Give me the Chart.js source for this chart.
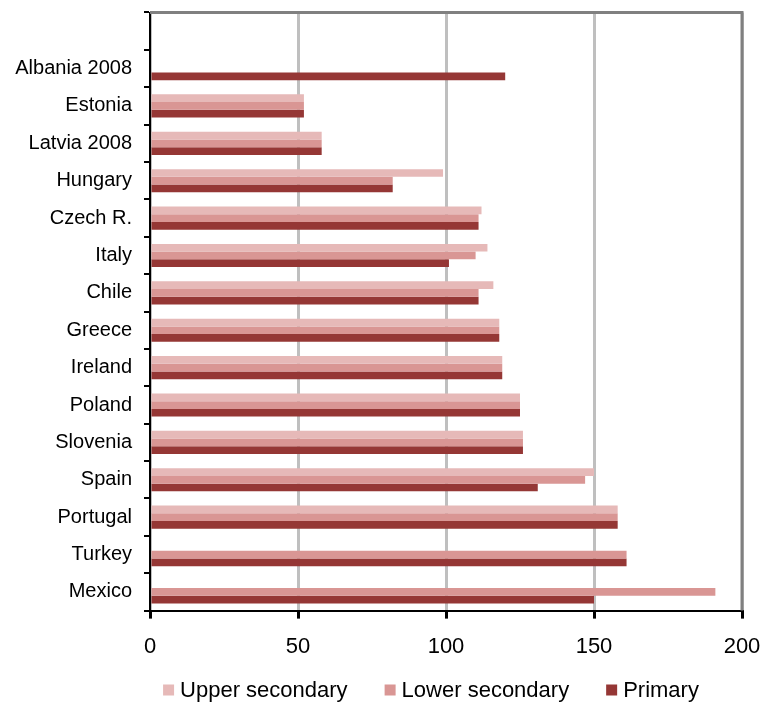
<!DOCTYPE html>
<html>
<head>
   <meta charset="utf-8">
   <script src="https://cdn.jsdelivr.net/npm/chart.js@4.4.0/dist/chart.umd.min.js"></script>
   <title>Education chart</title>
   <style>
      body { margin: 0; background: #fff; }
      #wrap { width: 764px; height: 702px; }
   </style>
</head>
<body>
<div id="wrap"><canvas id="bar-chart"></canvas></div>
<script>
   // first label left blank on purpose (empty slot above Albania)
   const categories = ["", "Albania 2008", "Estonia", "Latvia 2008", "Hungary", "Czech R.", "Italy", "Chile",
      "Greece", "Ireland", "Poland", "Slovenia", "Spain", "Portugal", "Turkey", "Mexico"];
   const upperSecondary = [null, null, 52, 58, 99, 112, 114, 116, 118, 119, 125, 126, 150, 158, null, null];
   const lowerSecondary = [null, null, 52, 58, 82, 111, 110, 111, 118, 119, 125, 126, 147, 158, 161, 191];
   const primary = [null, 120, 52, 58, 82, 111, 101, 111, 118, 119, 125, 126, 131, 158, 161, 150];
   const xTicks = [0, 50, 100, 150, 200];

   const FONT = "'Liberation Sans', Arial, sans-serif";

   // grey frame on top and right like the original
   const frame = {
      id: 'frame',
      afterDraw(chart) {
         const a = chart.chartArea, c = chart.ctx;
         c.save();
         c.strokeStyle = '#808080';
         c.lineWidth = 3;
         c.beginPath();
         c.moveTo(a.left, a.top);
         c.lineTo(a.right, a.top);
         c.lineTo(a.right, a.bottom);
         c.stroke();
         c.restore();
      }
   };

   // legend drawn by hand so the spacing can be like Excel's
   const bottomLegend = {
      id: 'bottomLegend',
      afterDraw(chart) {
         const c = chart.ctx;
         const sets = chart.data.datasets;
         const box = 11, gap = 6, between = 37;
         c.save();
         c.font = '22px ' + FONT;
         c.textBaseline = 'middle';
         let total = 0;
         sets.forEach((d, i) => {
            total += box + gap + c.measureText(d.label).width + (i < sets.length - 1 ? between : 0);
         });
         let x = 431 - total / 2;
         const y = 690;
         sets.forEach((d) => {
            c.fillStyle = d.backgroundColor;
            c.fillRect(x, y - box / 2, box, box);
            x += box + gap;
            c.fillStyle = '#000';
            c.fillText(d.label, x, y + 1);
            x += c.measureText(d.label).width + between;
         });
         c.restore();
      }
   };

   new Chart(document.getElementById("bar-chart"), {
      type: 'bar',
      data: {
         labels: categories,
         datasets: [
            { label: "Upper secondary", backgroundColor: "#E6B9B8", data: upperSecondary },
            { label: "Lower secondary", backgroundColor: "#D99694", data: lowerSecondary },
            { label: "Primary", backgroundColor: "#953735", data: primary }
         ]
      },
      options: {
         indexAxis: 'y',
         responsive: true,
         maintainAspectRatio: false,
         animation: false,
         categoryPercentage: 0.62,
         barPercentage: 1.0,
         layout: { padding: { top: 12, right: 22, left: 8, bottom: 27 } },
         plugins: {
            legend: { display: false },
            tooltip: { enabled: false }
         },
         scales: {
            x: {
               min: 0, max: 200,
               afterBuildTicks: (s) => { s.ticks = xTicks.map(v => ({ value: v })); },
               grid: { color: '#BFBFBF', lineWidth: 3, tickColor: '#000', tickLength: 8 },
               border: { color: '#000', width: 2 },
               // small padding + tall line keeps the label low without shrinking the plot
               ticks: { color: '#000', padding: 3, font: { family: FONT, size: 22, lineHeight: 2.29 } }
            },
            y: {
               afterFit: (s) => { s.width = 142; },
               grid: { offset: true, drawOnChartArea: false, color: '#000', lineWidth: 2, tickLength: 6 },
               border: { color: '#000', width: 2 },
               ticks: { color: '#000', padding: 12, font: { family: FONT, size: 20, lineHeight: 0.05 } }
            }
         }
      },
      plugins: [frame, bottomLegend]
   });
</script>
</body>
</html>
